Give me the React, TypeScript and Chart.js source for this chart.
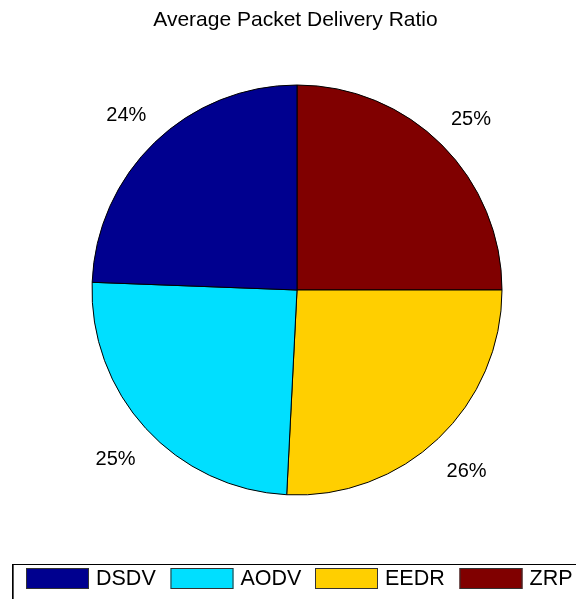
import { useEffect, useRef } from "react";
import { Chart, registerables } from "chart.js";

Chart.register(...registerables);

const TITLE = "Average Packet Delivery Ratio";
const protocols = ["DSDV", "AODV", "EEDR", "ZRP"];
const deliveryShare = [24.4, 24.8, 25.8, 25.0];
const sliceColors = ["#00008F", "#00DFFF", "#FFCF00", "#800000"];

const FONT = "'Liberation Sans', Arial, Helvetica, sans-serif";

export default function App() {
  const ref = useRef<HTMLCanvasElement>(null);

  useEffect(() => {
    if (!ref.current) return;
    const total = deliveryShare.reduce((a, b) => a + b, 0);
    const pctText = deliveryShare.map((v) => Math.round((v / total) * 100) + "%");
    // Chart.js draws clockwise; MATLAB-style pie runs counter-clockwise, so reverse
    const order = protocols.map((_, i) => protocols.length - 1 - i);

    const overlay = {
      id: "overlay",
      afterDraw(chart: any) {
        const ctx = chart.ctx as CanvasRenderingContext2D;
        const meta = chart.getDatasetMeta(0);
        ctx.save();
        ctx.fillStyle = "#000";
        ctx.textAlign = "center";
        ctx.textBaseline = "middle";
        ctx.font = `21px ${FONT}`;
        ctx.fillText(TITLE, 295.5, 20);

        ctx.font = `20px ${FONT}`;
        meta.data.forEach((el: any, i: number) => {
          const p = el.getProps(["x", "y", "startAngle", "endAngle", "outerRadius"], true);
          const mid = (p.startAngle + p.endAngle) / 2;
          const r = p.outerRadius * 1.2;
          ctx.fillText(pctText[order[i]], p.x + Math.cos(mid) * r, p.y + Math.sin(mid) * r + 3);
        });

        // legend box
        ctx.strokeStyle = "#000";
        ctx.lineWidth = 1;
        ctx.strokeRect(12.5, 564.5, 700, 100);
        ctx.fillStyle = "#555";
        ctx.fillRect(13, 565, 1, 40);

        ctx.textAlign = "left";
        ctx.font = `21.5px ${FONT}`;
        protocols.forEach((name, i) => {
          const sx = 26 + i * 144.5;
          ctx.fillStyle = sliceColors[i];
          ctx.fillRect(sx, 568, 63, 21);
          ctx.strokeStyle = "#333";
          ctx.strokeRect(sx + 0.5, 568.5, 62, 20);
          ctx.fillStyle = "#000";
          ctx.fillText(name, sx + 70, 579.5);
        });
        ctx.restore();
      },
    };

    const chart = new Chart(ref.current, {
      type: "pie",
      data: {
        labels: order.map((i) => protocols[i]),
        datasets: [
          {
            data: order.map((i) => deliveryShare[i]),
            backgroundColor: order.map((i) => sliceColors[i]),
            borderColor: "#000",
            borderWidth: 1,
          },
        ],
      },
      options: {
        responsive: false,
        animation: false,
        devicePixelRatio: 1,
        events: [],
        layout: { padding: { left: 91.5, right: 73.5, top: 84.5, bottom: 103.5 } },
        plugins: {
          legend: { display: false },
          title: { display: false },
          tooltip: { enabled: false },
        },
      },
      plugins: [overlay],
    });
    return () => chart.destroy();
  }, []);

  return (
    <div style={{ position: "fixed", left: 0, top: 0, width: 576, height: 599, background: "#fff" }}>
      <canvas ref={ref} width={576} height={599} />
    </div>
  );
}
